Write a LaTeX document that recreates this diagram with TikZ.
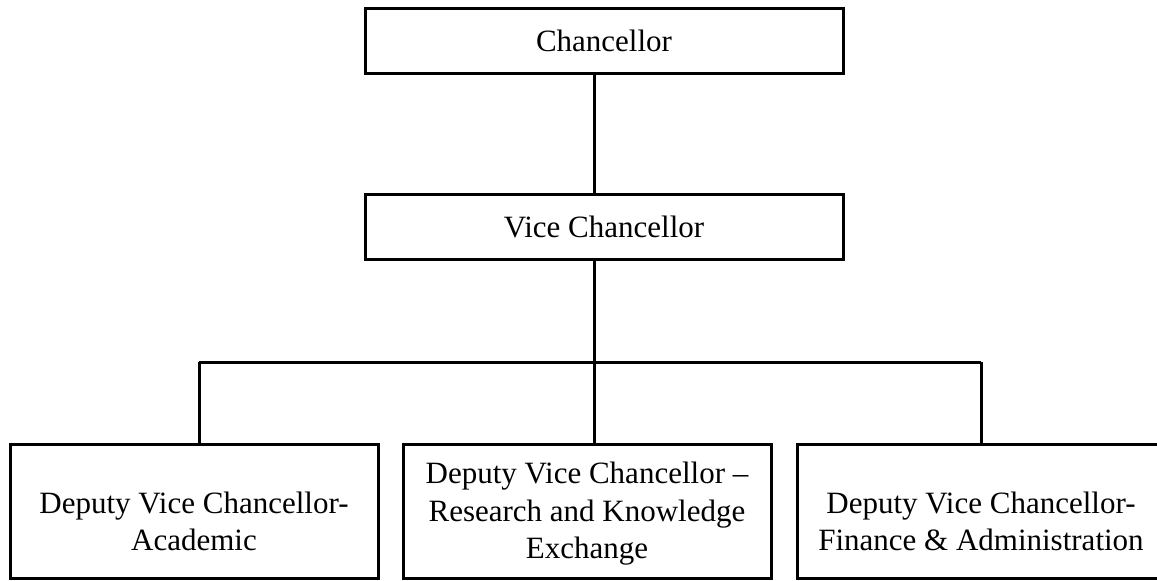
\documentclass[tikz,border=0pt]{standalone}
\usepackage{fontspec}
\setmainfont{Liberation Serif}
\usepackage{tikz}
\usetikzlibrary{positioning}
\tikzstyle{office} = [draw=black, line width=3pt, rectangle, inner sep=0pt, align=center, font=\fontsize{31}{37.5}\selectfont]
\tikzstyle{deputy} = [office, minimum width=368pt, minimum height=134pt]
\tikzstyle{link} = [draw, line width=3pt]

\begin{document}
\begin{tikzpicture}[x=1pt, y=-1pt]

\useasboundingbox (0,0) rectangle (1157,581);
\clip (0,0) rectangle (1157,581);

\node [office, minimum width=478pt, minimum height=65pt] (chancellor) at (604,40.5) {Chancellor};
\node [office, minimum width=478pt, minimum height=65pt] (vice) at (604,226.5) {Vice Chancellor};

\node [deputy, text height=80pt] (dvca) at (194,511) {Deputy Vice Chancellor-\\Academic};
\node [deputy, text height=102pt] (dvcr) at (587,511) {Deputy Vice Chancellor --\\Research and Knowledge\\Exchange};
\node [deputy, text height=80pt] (dvcf) at (981,511) {Deputy Vice Chancellor-\\Finance \& Administration};

\coordinate (spine) at (594,362);
\coordinate (lbranch) at (199,362);
\coordinate (rbranch) at (981,362);

\draw[link] (chancellor.south -| spine) -- (vice.north -| spine);
\draw[link] (vice.south -| spine) -- (spine);
\draw[link] (lbranch) -- (rbranch);
\draw[link] (lbranch) -- (lbranch |- dvca.north);
\draw[link] (spine) -- (spine |- dvcr.north);
\draw[link] (rbranch) -- (rbranch |- dvcf.north);

\end{tikzpicture}
\end{document}
